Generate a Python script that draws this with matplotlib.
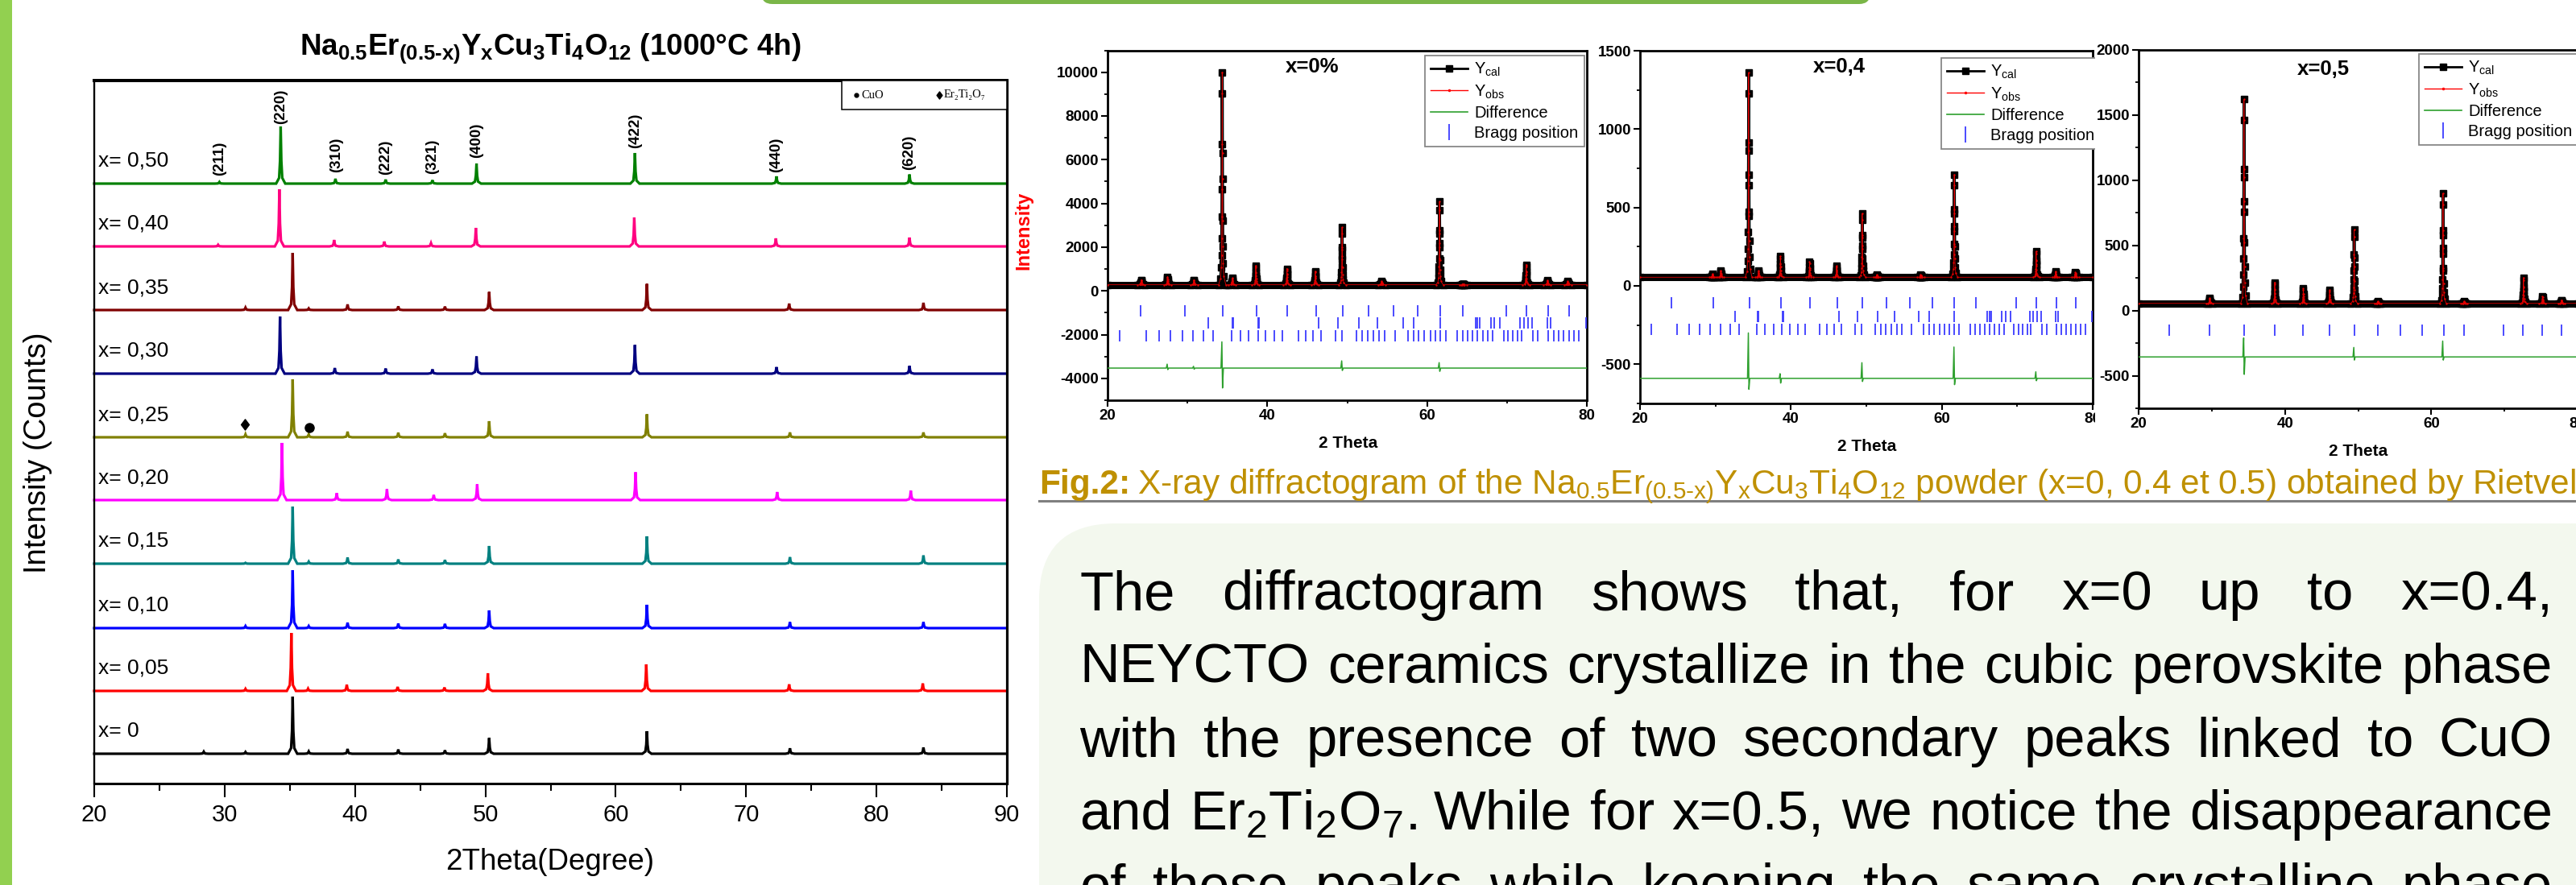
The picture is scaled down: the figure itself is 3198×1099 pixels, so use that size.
import numpy as np
import matplotlib
matplotlib.use("Agg")
import matplotlib.pyplot as plt
from matplotlib.patches import Rectangle, FancyBboxPatch
from matplotlib.lines import Line2D
from matplotlib.path import Path
from matplotlib.transforms import IdentityTransform

plt.rcParams.update({
    "font.family": ["Liberation Sans", "DejaVu Sans"],
    "mathtext.fontset": "custom",
    "mathtext.rm": "Liberation Sans",
    "mathtext.it": "Liberation Sans",
    "mathtext.sf": "Liberation Sans",
    "mathtext.bf": "Liberation Sans:bold",
    "mathtext.default": "rm",
})

HY = "\u2010"

# ====================== DATA ======================
# ---- left figure: stacked XRD patterns ----
compositions = ["0", "0,05", "0,10", "0,15", "0,20", "0,25", "0,30", "0,35", "0,40", "0,50"]
baseline_levels = [37, 115, 193, 273, 352, 430, 509, 588, 667, 745]

peaks_pos_000 = [28.4, 31.6, 35.22, 36.45, 39.43, 43.32, 46.9, 50.29, 62.39, 73.36, 83.6]
peaks_int_000 = [2.5, 2.1, 71, 2.8, 6, 5.3, 4.3, 19.6, 28, 6.8, 7.8]
peaks_pos_005 = [31.6, 35.12, 36.4, 39.37, 43.27, 46.86, 50.19, 62.34, 73.3, 83.55]
peaks_int_005 = [2.5, 72, 2.8, 7.8, 5, 4.3, 22, 33, 8.2, 9.3]
peaks_pos_010 = [31.6, 35.22, 36.45, 39.43, 43.32, 46.9, 50.29, 62.39, 73.36, 83.6]
peaks_int_010 = [2.5, 72, 2.5, 6.8, 5.7, 5.3, 22, 29, 7.5, 7.5]
peaks_pos_015 = [31.6, 35.22, 36.45, 39.43, 43.32, 46.9, 50.29, 62.39, 73.36, 83.6]
peaks_int_015 = [1, 71, 2.5, 7.8, 5.3, 4.6, 22, 34, 8.2, 10.3]
peaks_pos_020 = [34.4, 38.6, 42.45, 46.04, 49.37, 61.52, 72.38, 82.63]
peaks_int_020 = [71, 8.6, 13.5, 6.4, 19.6, 34.6, 10, 11.8]
peaks_pos_025 = [31.6, 35.22, 36.45, 39.43, 43.32, 46.9, 50.29, 62.39, 73.36, 83.6]
peaks_int_025 = [3.6, 72, 3.6, 7, 5.7, 5, 20, 28.6, 6, 6]
peaks_pos_030 = [34.25, 38.45, 42.35, 45.94, 49.32, 61.47, 72.33, 82.53]
peaks_int_030 = [71, 7, 6.4, 5.4, 21.4, 35.7, 8.2, 9.6]
peaks_pos_035 = [31.6, 35.22, 36.45, 39.43, 43.32, 46.9, 50.29, 62.39, 73.3, 83.6]
peaks_int_035 = [3, 71, 2, 7, 4.6, 4.3, 22.5, 32.5, 8, 9]
peaks_pos_040 = [29.5, 34.2, 38.4, 42.25, 45.83, 49.27, 61.42, 72.28, 82.53]
peaks_int_040 = [2, 71, 8, 6, 4, 23, 36, 10, 11]
peaks_pos_050 = [29.6, 34.3, 38.5, 42.35, 45.94, 49.32, 61.47, 72.33, 82.53]
peaks_int_050 = [2, 71, 6, 5, 4.3, 25, 38, 9, 11.4]

hkl_labels = ["(211)", "(220)", "(310)", "(222)", "(321)", "(400)", "(422)", "(440)", "(620)"]
hkl_2theta = [29.6, 34.3, 38.55, 42.35, 45.94, 49.32, 61.47, 72.33, 82.48]

secondary_names = ["CuO", "Er\u2082Ti\u2082O\u2087"]
secondary_2theta = [36.5, 31.55]
secondary_level = [442, 446]

left_xticks = [20, 30, 40, 50, 60, 70, 80, 90]

# ---- Rietveld refinements ----
riet_titles = ["x=0%", "x=0,4", "x=0,5"]

r0_bg = 280
r0_pos = [24.2, 27.5, 30.8, 34.35, 35.6, 38.55, 42.45, 46.0, 49.35, 54.3, 61.55, 64.5, 72.4, 75.05, 77.6]
r0_int = [500, 650, 500, 10000, 580, 1160, 1020, 900, 2900, 440, 4080, 320, 1200, 480, 440]
r0_diff_base = -3530
r0_diff_pos = [27.5, 30.8, 34.35, 49.35, 61.55]
r0_diff_up = [-3350, -3450, -2330, -3200, -3280]
r0_diff_down = [-3600, -3580, -4440, -3640, -3680]
r0_bragg_levels = [-900, -1470, -2060]

r1_bg = 55
r1_pos = [29.6, 30.7, 34.4, 35.7, 38.6, 42.47, 46.04, 49.45, 51.4, 57.2, 61.65, 72.5, 75.07, 77.7]
r1_int = [75, 97, 1360, 96, 190, 152, 127, 462, 70, 70, 710, 220, 92, 87]
r1_diff_base = -590
r1_diff_pos = [34.4, 38.6, 49.45, 61.65, 72.5]
r1_diff_up = [-300, -560, -490, -390, -548]
r1_diff_down = [-660, -620, -610, -630, -605]
r1_bragg_levels = [-110, -195, -277]

r2_bg = 55
r2_pos = [29.7, 34.4, 38.6, 42.5, 46.1, 49.45, 52.7, 61.6, 64.5, 72.6, 75.2, 77.8]
r2_int = [95, 1620, 217, 168, 156, 620, 70, 900, 70, 253, 107, 80]
r2_diff_base = -356
r2_diff_pos = [34.4, 49.45, 61.6]
r2_diff_up = [-210, -283, -234]
r2_diff_down = [-490, -380, -380]
r2_bragg_levels = [-148]

bragg_phase1 = [24.18, 29.71, 34.47, 38.65, 42.51, 46.11, 49.45, 52.67, 55.76, 58.78,
                61.67, 64.5, 69.9, 72.48, 75.18, 77.75]
bragg_phase2 = [32.6, 35.6, 35.72, 38.9, 39.0, 46.37, 48.81, 51.51, 53.76, 56.98, 58.33,
                61.67, 66.05, 66.3, 66.56, 67.97, 68.43, 69.07, 71.64, 72.09, 72.6, 73.12,
                75.05, 75.43, 79.87]
bragg_phase3 = [21.54, 24.89, 26.5, 27.91, 29.33, 30.68, 31.96, 33.18, 35.5, 36.59, 37.68,
                38.84, 39.81, 40.9, 41.93, 43.86, 44.76, 45.72, 46.69, 48.49, 49.32, 51.19,
                51.9, 52.6, 53.31, 54.02, 54.73, 56.01, 57.62, 58.33, 58.97, 59.68, 60.39,
                61.03, 61.67, 62.32, 63.79, 64.44, 65.08, 65.66, 66.3, 66.95, 67.59, 68.23,
                69.58, 70.16, 70.68, 71.32, 71.83, 73.25, 73.89, 75.18, 75.82, 76.46, 77.11,
                77.75, 78.39, 79.04]

para_lines = [
    "The diffractogram shows that, for x=0 up to x=0.4,",
    "NEYCTO ceramics crystallize in the cubic perovskite phase",
    "with the presence of two secondary peaks linked to CuO",
    "and Er$_2$Ti$_2$O$_7$. While for x=0.5, we notice the disappearance",
    "of these peaks while keeping the same crystalline phase",
]

# ====================== STYLE / LAYOUT ======================
W, H, DPI = 3198, 1099, 100
line_colors = ["#000000", "#FF0000", "#0000FF", "#008080", "#FF00FF",
               "#808000", "#000080", "#800000", "#FF0080", "#008000"]
hkl_level = [755, 819, 759, 756, 757, 777, 789, 759, 762]
XRD_DX = [-0.35, -0.12, -0.05, 0.0, 0.05, 0.12, 0.35]
XRD_FR = [0.0, 0.1, 0.4, 1.0, 0.4, 0.1, 0.0]
RIET_DX = [-0.45, -0.2, -0.12, -0.08, -0.06, -0.04, -0.025, -0.012, 0, 0.012, 0.025,
           0.04, 0.06, 0.08, 0.12, 0.2, 0.45]
RIET_FR = [0, 0.03, 0.08, 0.14, 0.22, 0.32, 0.45, 0.66, 1.0, 0.9, 0.62, 0.5, 0.3,
           0.18, 0.1, 0.04, 0]
BRAGG_COLOR = "#3B3BFF"
DIFF_COLOR = "#2EA02E"
GOLD = "#BF9000"


def build_profile(pos, heights, base, x0, x1, dxs, frs, absolute=False):
    xs, ys = [x0], [base]
    for p, h in sorted(zip(pos, heights)):
        amp = (h - base) if absolute else h
        for dx, f in zip(dxs, frs):
            xs.append(p + dx)
            ys.append(base + f * amp)
    xs.append(x1)
    ys.append(base)
    return xs, ys


fig = plt.figure(figsize=(W / DPI, H / DPI), dpi=DPI)
fig.patch.set_facecolor("white")


def add_ax(x0, y0, x1, y1):
    return fig.add_axes([x0 / W, 1 - y1 / H, (x1 - x0) / W, (y1 - y0) / H])


def ftext(px, py, s, **kw):
    return fig.text(px / W, 1 - py / H, s, **kw)


def add_shape(patch, z):
    patch.set_transform(IdentityTransform())
    patch.set_zorder(z)
    fig.add_artist(patch)


# ---- decorations ----
add_shape(Rectangle((0, 0), 15, H, facecolor="#92D050", edgecolor="none"), 1)
add_shape(FancyBboxPatch((945, H - 5), 2322 - 945, 60,
                         boxstyle="round,pad=0,rounding_size=14",
                         facecolor="#7AB648", edgecolor="none"), 1)
add_shape(FancyBboxPatch((1290, -300), 2300, H - 650 + 300,
                         boxstyle="round,pad=0,rounding_size=95",
                         facecolor="#F3F8EE", edgecolor="none"), 1)

# ====================== LEFT: stacked XRD ======================
L_X0, L_Y0, L_X1, L_Y1 = 117, 100, 1250, 973
axL = add_ax(L_X0, L_Y0, L_X1, L_Y1)
axL.set_xlim(20, 90)
axL.set_ylim(0, L_Y1 - L_Y0)
all_pos = [peaks_pos_000, peaks_pos_005, peaks_pos_010, peaks_pos_015, peaks_pos_020,
           peaks_pos_025, peaks_pos_030, peaks_pos_035, peaks_pos_040, peaks_pos_050]
all_int = [peaks_int_000, peaks_int_005, peaks_int_010, peaks_int_015, peaks_int_020,
           peaks_int_025, peaks_int_030, peaks_int_035, peaks_int_040, peaks_int_050]
for comp, base, pos, inten, col in zip(compositions, baseline_levels, all_pos, all_int, line_colors):
    xs, ys = build_profile(pos, inten, base, 20, 90, XRD_DX, XRD_FR)
    axL.plot(xs, ys, color=col, lw=2.3, solid_joinstyle="miter", clip_on=False)
    axL.text(20.3, base + 28, "x= " + comp, fontsize=19, va="center", ha="left")

for lab, tt, lev in zip(hkl_labels, hkl_2theta, hkl_level):
    axL.text(tt, lev, lab, rotation=90, ha="center", va="bottom", fontsize=13.5,
             fontweight="bold")

diamond = Path([(0, 1), (0.75, 0), (0, -1), (-0.75, 0), (0, 1)],
               [Path.MOVETO, Path.LINETO, Path.LINETO, Path.LINETO, Path.CLOSEPOLY])
sec_markers = ["o", diamond]
sec_sizes = [8, 9.5]
for tt, lev, mk, ms in zip(secondary_2theta, secondary_level, sec_markers, sec_sizes):
    axL.plot([tt], [lev], marker=mk, color="black", ms=ms, linestyle="none")

# small legend box
bx0 = (1045 - L_X0) / (L_X1 - L_X0)
by0 = (L_Y1 - 136) / (L_Y1 - L_Y0)
axL.add_patch(Rectangle((bx0, by0), 1 - bx0, 1 - by0, transform=axL.transAxes,
                        facecolor="white", edgecolor="black", lw=1.1, zorder=5))
leg_y = (L_Y1 - 118) / (L_Y1 - L_Y0)
for mk_x, tx_x, name, mk, ms in zip([1063, 1166], [1069, 1172], secondary_names,
                                     sec_markers, [3.5, 6.5]):
    axL.plot([(mk_x - L_X0) / (L_X1 - L_X0)], [leg_y], marker=mk, ms=ms, color="black",
             transform=axL.transAxes, clip_on=False, zorder=6, linestyle="none")
    axL.text((tx_x - L_X0) / (L_X1 - L_X0), leg_y, name, transform=axL.transAxes,
             fontsize=10.5, va="center", ha="left", zorder=6,
             family=["Liberation Serif", "DejaVu Serif"])

axL.set_yticks([])
axL.set_xticks(left_xticks)
axL.set_xticklabels([str(v) for v in left_xticks], fontsize=21)
axL.set_xticks([25, 35, 45, 55, 65, 75, 85], minor=True)
axL.tick_params(axis="x", which="major", direction="out", length=12, width=1.5, pad=6)
axL.tick_params(axis="x", which="minor", direction="out", length=6.5, width=1.5)
axL.spines["top"].set_linewidth(2.9)
axL.spines["bottom"].set_linewidth(2.2)
axL.spines["left"].set_linewidth(1.7)
axL.spines["right"].set_linewidth(2.3)

title_str = (r"$\mathbf{Na_{0.5}Er_{(0.5" + HY + r"x)}Y_{x}Cu_{3}Ti_{4}O_{12}}$"
             + " (1000°C 4h)")
ftext(683, 68, title_str, fontsize=26.5, fontweight="bold", ha="center", va="baseline")
ftext(47, 562, "Intensity (Counts)", fontsize=27.5, rotation=90, ha="center", va="center")
ftext(683, 1070, "2Theta(Degree)", fontsize=26.5, ha="center", va="center")

# ====================== RIGHT: Rietveld plots ======================
riet_boxes = [(1375, 62.5, 1970, 497), (2036, 63, 2598, 501), (2655, 62, 3200, 507)]
riet_ylims = [(-5000, 11000), (-750, 1500), (-750, 2000)]
riet_ymajor = [list(range(-4000, 10001, 2000)), list(range(-500, 1501, 500)),
               list(range(-500, 2001, 500))]
riet_yminor = [list(range(-5000, 11001, 1000)), list(range(-750, 1501, 250)),
               list(range(-750, 2001, 250))]
riet_title_xy = [(1629, 83), (2283, 83), (2884, 86)]
riet_xlabel_xy = [(1674, 551), (2318, 555), (2928, 561)]
riet_legend_xy = [(1769, 69), (2410, 72), (3003, 67)]

riet_bg = [r0_bg, r1_bg, r2_bg]
riet_pos = [r0_pos, r1_pos, r2_pos]
riet_int = [r0_int, r1_int, r2_int]
riet_dbase = [r0_diff_base, r1_diff_base, r2_diff_base]
riet_dpos = [r0_diff_pos, r1_diff_pos, r2_diff_pos]
riet_dup = [r0_diff_up, r1_diff_up, r2_diff_up]
riet_ddown = [r0_diff_down, r1_diff_down, r2_diff_down]
riet_blev = [r0_bragg_levels, r1_bragg_levels, r2_bragg_levels]
bragg_sets = [bragg_phase1, bragg_phase2, bragg_phase3]

riet_axes = []
for i in range(3):
    x0, y0, x1, y1 = riet_boxes[i]
    ax = add_ax(x0, y0, x1, y1)
    ax.set_zorder(1 + i)
    riet_axes.append(ax)
    ax.set_xlim(20, 80)
    ax.set_ylim(*riet_ylims[i])
    bg = riet_bg[i]
    # observed / calculated
    ax.plot([20, 80], [bg, bg], color="black", lw=6.5, solid_capstyle="butt", zorder=2)
    xs, ys = build_profile(riet_pos[i], riet_int[i], bg, 20, 80, RIET_DX, RIET_FR,
                           absolute=True)
    ax.plot(xs, ys, color="black", lw=2.6, marker="s", ms=5.5, zorder=3)
    ax.plot(xs, ys, color="#E00000", lw=0.6, marker=".", ms=1.5, zorder=4)
    # difference
    dx_, dy_ = [20], [riet_dbase[i]]
    for p, u, d in zip(riet_dpos[i], riet_dup[i], riet_ddown[i]):
        dx_ += [p - 0.15, p - 0.04, p + 0.04, p + 0.15]
        dy_ += [riet_dbase[i], u, d, riet_dbase[i]]
    dx_.append(80)
    dy_.append(riet_dbase[i])
    ax.plot(dx_, dy_, color=DIFF_COLOR, lw=1.1, zorder=3)
    # Bragg positions
    for lev, bset in zip(riet_blev[i], bragg_sets):
        ax.plot(bset, [lev] * len(bset), linestyle="none", marker="|", ms=10, mew=1.3,
                color=BRAGG_COLOR, zorder=3)
    # axes styling
    ax.set_xticks([20, 40, 60, 80])
    ax.set_xticklabels(["20", "40", "60", "80"], fontsize=13.5, fontweight="bold")
    ax.set_xticks([30, 50, 70], minor=True)
    ax.set_yticks(riet_ymajor[i])
    ax.set_yticklabels([str(v) for v in riet_ymajor[i]], fontsize=13.5, fontweight="bold")
    ax.set_yticks(riet_yminor[i], minor=True)
    ax.tick_params(which="major", direction="out", length=5.5, width=1.5, pad=2.5)
    ax.tick_params(which="minor", direction="out", length=3, width=1.3)
    for sp in ax.spines.values():
        sp.set_linewidth(2)
    # legend
    handles = [
        Line2D([], [], color="black", lw=2, marker="s", ms=6),
        Line2D([], [], color="red", lw=1, marker=".", ms=3),
        Line2D([], [], color=DIFF_COLOR, lw=1.2),
        Line2D([], [], color=BRAGG_COLOR, linestyle="none", marker="|", ms=14, mew=1.3),
    ]
    labels = ["Y$_{cal}$", "Y$_{obs}$", "Difference", "Bragg position"]
    lx, ly = riet_legend_xy[i]
    leg = ax.legend(handles, labels, loc="upper left", bbox_to_anchor=(lx / W, 1 - ly / H),
                    bbox_transform=fig.transFigure, fontsize=14.5, handlelength=2.3,
                    handletextpad=0.4, borderpad=0.35, labelspacing=0.3, borderaxespad=0,
                    fancybox=False, framealpha=1, edgecolor="#888888", numpoints=1)
    leg.get_frame().set_linewidth(1.3)
    tx, ty = riet_title_xy[i]
    ftext(tx, ty, riet_titles[i], fontsize=18.5, fontweight="bold", ha="center", va="center",
          zorder=10)
    lx2, ly2 = riet_xlabel_xy[i]
    ftext(lx2, ly2, "2 Theta", fontsize=15, fontweight="bold", ha="center", va="center")

# mask hiding the right half of the last tick label of the middle plot
add_shape(Rectangle((2601, H - 575), 50, 535, facecolor="white", edgecolor="none"), 2.5)

ftext(1271, 286, "Intensity", fontsize=17, fontweight="bold", color="red", rotation=90,
      ha="center", va="center")

# ====================== caption ======================
renderer = fig.canvas.get_renderer()
cap1 = ftext(1290, 613, "Fig.2:", fontsize=30.5, fontweight="bold", color=GOLD,
             va="baseline", ha="left")
w1 = cap1.get_window_extent(renderer).width
cap2_str = ("X-ray diffractogram of the Na$_{0.5}$Er$_{(0.5" + HY + "x)}$Y$_{x}$Cu$_{3}$"
            "Ti$_{4}$O$_{12}$ powder (x=0, 0.4 et 0.5) obtained by Rietveld")
ftext(1290 + w1 + 9, 613, cap2_str, fontsize=30.5, color=GOLD, va="baseline", ha="left")
fig.add_artist(Line2D([1290 / W, 1.0], [1 - 622 / H, 1 - 622 / H], color="#7F7F7F",
                      lw=2.2, transform=fig.transFigure, zorder=2))

# ====================== justified paragraph ======================
P_X0, P_X1 = 1340, 3169
para_baselines = [757, 848, 939, 1030, 1121]
for line, yb in zip(para_lines, para_baselines):
    words = line.split(" ")
    ts = [ftext(0, yb, w, fontsize=49.5, va="baseline", ha="left", zorder=4) for w in words]
    ws = [t.get_window_extent(renderer).width for t in ts]
    gap = (P_X1 - P_X0 - sum(ws)) / (len(ws) - 1)
    x = P_X0
    for t, w in zip(ts, ws):
        t.set_x(x / W)
        x += w + gap

fig.savefig("out.png", dpi=DPI)
